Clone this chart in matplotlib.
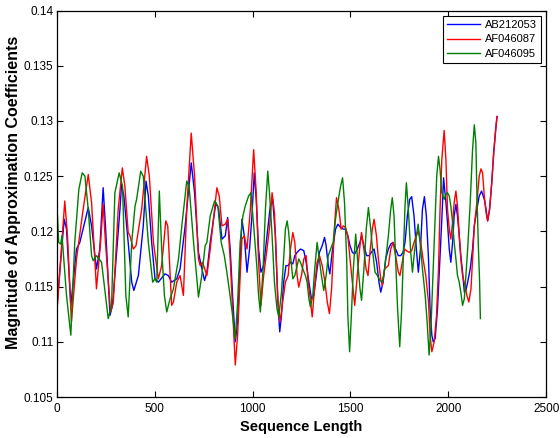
import matplotlib
matplotlib.use("Agg")
import matplotlib.pyplot as plt

# values
blue_x = [0, 38, 50, 72, 101, 118, 161, 178, 203, 220, 237, 249, 272, 285, 323, 331, 343, 365, 383, 394,
          417, 442, 456, 468, 485, 502, 519, 553, 570, 587, 613, 630, 656, 687, 704, 724, 738, 755, 767, 784,
          813, 827, 844, 861, 873, 886, 900, 912, 924, 934, 946, 958, 972, 985, 997, 1009, 1019, 1031, 1043, 1057,
          1074, 1091, 1103, 1117, 1129, 1139, 1148, 1159, 1171, 1182, 1194, 1206, 1216, 1228, 1245, 1262, 1274, 1288, 1301, 1313,
          1330, 1342, 1356, 1368, 1376, 1387, 1395, 1407, 1424, 1436, 1450, 1464, 1475, 1487, 1498, 1510, 1522, 1535, 1549, 1557,
          1569, 1583, 1595, 1607, 1621, 1634, 1646, 1655, 1667, 1680, 1694, 1706, 1718, 1731, 1745, 1757, 1769, 1779, 1791, 1803,
          1813, 1825, 1837, 1847, 1858, 1868, 1878, 1888, 1899, 1907, 1916, 1923, 1933, 1945, 1957, 1967, 1976, 1988, 1996, 2005,
          2013, 2022, 2030, 2039, 2047, 2056, 2064, 2073, 2082, 2090, 2099, 2112, 2124, 2133, 2146, 2158, 2170, 2184, 2193, 2201,
          2211, 2222, 2232, 2242, 2249]
blue_y = [0.1130, 0.1211, 0.1202, 0.1133, 0.1184, 0.1190, 0.12215, 0.1205, 0.1166, 0.1184, 0.12395, 0.1205, 0.1124, 0.1133, 0.1220, 0.12425, 0.1232, 0.1190, 0.1154, 0.11465,
          0.1160, 0.1205, 0.12455, 0.1232, 0.1190, 0.1157, 0.1154, 0.11615, 0.1160, 0.1154, 0.1157, 0.1166, 0.1205, 0.1262, 0.1235, 0.1181, 0.1169, 0.11555, 0.1163, 0.1190,
          0.1226, 0.1220, 0.1193, 0.1196, 0.12125, 0.1184, 0.1136, 0.1100, 0.1118, 0.1160, 0.1211, 0.1196, 0.1163, 0.1184, 0.1214, 0.1253, 0.1229, 0.1184, 0.1163, 0.1169,
          0.1196, 0.1223, 0.1229, 0.1196, 0.1139, 0.1109, 0.1124, 0.1154, 0.1169, 0.1169, 0.1172, 0.11705, 0.1178, 0.1181, 0.1184, 0.11825, 0.1172, 0.1154, 0.1139, 0.1142,
          0.1166, 0.1181, 0.1187, 0.11945, 0.1187, 0.1169, 0.11615, 0.1181, 0.1202, 0.12065, 0.12035, 0.1202, 0.1202, 0.1196, 0.1187, 0.1181, 0.11795, 0.1184, 0.1190, 0.1196,
          0.1187, 0.1178, 0.1178, 0.1181, 0.1184, 0.1172, 0.1154, 0.1145, 0.1154, 0.1175, 0.1184, 0.11885, 0.1190, 0.1184, 0.1178, 0.1178, 0.1181, 0.1190, 0.1214, 0.1229,
          0.12314, 0.1214, 0.1184, 0.1163, 0.1184, 0.1220, 0.12314, 0.1214, 0.1175, 0.1130, 0.1106, 0.1100, 0.1103, 0.1130, 0.1175, 0.1211, 0.12485, 0.1226, 0.1208, 0.1184,
          0.1172, 0.1190, 0.1214, 0.12245, 0.1214, 0.1196, 0.1178, 0.1163, 0.1145, 0.11465, 0.1154, 0.1166, 0.1184, 0.1205, 0.1220, 0.1232, 0.12365, 0.1229, 0.1220, 0.12095,
          0.1220, 0.1244, 0.1271, 0.1292, 0.1304]

red_x = [0, 41, 55, 75, 101, 135, 161, 178, 203, 224, 237, 249, 275, 289, 314, 335, 348, 365, 374, 391,
         405, 434, 459, 473, 494, 519, 536, 557, 567, 587, 596, 613, 630, 647, 664, 687, 704, 724, 733, 745,
         767, 784, 818, 830, 844, 861, 873, 886, 900, 912, 924, 937, 946, 958, 972, 989, 1006, 1019, 1031, 1043,
         1057, 1074, 1088, 1100, 1112, 1125, 1130, 1142, 1154, 1168, 1182, 1194, 1206, 1216, 1228, 1236, 1250, 1262, 1274, 1284,
         1293, 1305, 1318, 1330, 1342, 1356, 1370, 1382, 1393, 1404, 1419, 1429, 1441, 1453, 1464, 1475, 1487, 1498, 1510, 1522,
         1535, 1547, 1557, 1569, 1580, 1590, 1600, 1612, 1621, 1633, 1643, 1655, 1663, 1675, 1694, 1706, 1718, 1731, 1745, 1753,
         1765, 1777, 1786, 1800, 1813, 1825, 1837, 1847, 1859, 1871, 1885, 1899, 1907, 1916, 1928, 1940, 1950, 1958, 1967, 1979,
         1988, 1996, 2005, 2013, 2022, 2030, 2039, 2047, 2056, 2064, 2073, 2085, 2095, 2105, 2116, 2124, 2133, 2146, 2158, 2167,
         2175, 2184, 2193, 2201, 2211, 2222, 2232, 2242, 2249]
red_y = [0.1124, 0.12275, 0.1196, 0.1118, 0.1175, 0.1220, 0.12515, 0.1226, 0.1148, 0.1190, 0.12245, 0.1190, 0.1127, 0.1136, 0.1220, 0.12575, 0.1241, 0.1199, 0.1196, 0.1184,
         0.1187, 0.1220, 0.1268, 0.1250, 0.1190, 0.1157, 0.1169, 0.12095, 0.1205, 0.1133, 0.1136, 0.1154, 0.1160, 0.1142, 0.1220, 0.1289, 0.1250, 0.1175, 0.1169, 0.1172,
         0.1160, 0.1184, 0.12395, 0.1232, 0.1205, 0.12065, 0.1211, 0.1175, 0.1124, 0.1079, 0.1106, 0.1160, 0.1193, 0.1196, 0.1184, 0.1220, 0.1274, 0.1235, 0.1172, 0.1133,
         0.1160, 0.1184, 0.1205, 0.1235, 0.1217, 0.1160, 0.1136, 0.1118, 0.1136, 0.1154, 0.1160, 0.1184, 0.1199, 0.1190, 0.1160, 0.11495, 0.1160, 0.1175, 0.1178, 0.1154,
         0.1142, 0.11225, 0.1151, 0.1172, 0.1178, 0.1169, 0.1154, 0.1136, 0.11255, 0.1148, 0.1205, 0.12305, 0.1220, 0.1202, 0.1205, 0.12035, 0.1196, 0.1175, 0.1154, 0.1133,
         0.1160, 0.1184, 0.1199, 0.1184, 0.1166, 0.1160, 0.1181, 0.1202, 0.1211, 0.1196, 0.1175, 0.1157, 0.1151, 0.1166, 0.1169, 0.1184, 0.1190, 0.1178, 0.1163, 0.1160,
         0.1172, 0.1184, 0.11825, 0.1181, 0.11825, 0.1190, 0.1196, 0.12005, 0.1190, 0.1175, 0.1160, 0.1136, 0.1106, 0.1091, 0.1100, 0.1124, 0.1166, 0.1220, 0.1265, 0.12914,
         0.1265, 0.1220, 0.1202, 0.1193, 0.1208, 0.1226, 0.12365, 0.1223, 0.1196, 0.1175, 0.1160, 0.1151, 0.1142, 0.1136, 0.1148, 0.1175, 0.1205, 0.1226, 0.1250, 0.12566,
         0.1253, 0.1232, 0.1217, 0.12095, 0.1220, 0.1244, 0.1271, 0.1292, 0.1304]

green_x = [4, 10, 20, 27, 50, 72, 92, 113, 130, 144, 161, 178, 186, 203, 229, 263, 280, 297, 319, 336,
           353, 365, 383, 400, 408, 429, 442, 468, 490, 502, 511, 524, 536, 550, 562, 579, 596, 622, 639, 664,
           676, 699, 724, 741, 758, 767, 784, 806, 823, 840, 856, 869, 883, 896, 912, 924, 937, 951, 963, 980,
           992, 1006, 1023, 1031, 1040, 1054, 1066, 1078, 1088, 1100, 1112, 1125, 1134, 1148, 1159, 1168, 1177, 1185, 1194, 1206,
           1216, 1228, 1236, 1245, 1257, 1270, 1279, 1288, 1296, 1308, 1318, 1330, 1339, 1352, 1364, 1376, 1387, 1399, 1412, 1424,
           1436, 1450, 1460, 1470, 1481, 1487, 1496, 1505, 1515, 1527, 1539, 1549, 1557, 1569, 1581, 1592, 1604, 1616, 1626, 1638,
           1651, 1663, 1675, 1694, 1706, 1714, 1723, 1731, 1741, 1752, 1762, 1771, 1779, 1786, 1796, 1808, 1817, 1827, 1837, 1846,
           1856, 1868, 1882, 1892, 1902, 1912, 1923, 1933, 1941, 1950, 1958, 1967, 1979, 1988, 1996, 2005, 2013, 2022, 2030, 2039,
           2047, 2056, 2064, 2073, 2082, 2090, 2099, 2112, 2124, 2133, 2141, 2146, 2153, 2160, 2164]
green_y = [0.1214, 0.1190, 0.11885, 0.1196, 0.1142, 0.1106, 0.1190, 0.1238, 0.1253, 0.1250, 0.1220, 0.1178, 0.11735, 0.1178, 0.1172, 0.1121, 0.1133, 0.1235, 0.1253, 0.1241,
           0.1142, 0.11225, 0.1190, 0.1223, 0.1229, 0.12545, 0.1250, 0.1190, 0.1154, 0.1157, 0.1154, 0.12365, 0.1184, 0.1142, 0.1127, 0.1139, 0.1148, 0.1175, 0.1205, 0.12455,
           0.1241, 0.1190, 0.11405, 0.1160, 0.1187, 0.1190, 0.1214, 0.12275, 0.1223, 0.1190, 0.1178, 0.1163, 0.1145, 0.1127, 0.1103, 0.1136, 0.1190, 0.1214, 0.1223, 0.1232,
           0.1235, 0.1205, 0.1166, 0.1142, 0.1127, 0.1166, 0.1220, 0.12545, 0.1232, 0.1196, 0.1154, 0.1130, 0.11225, 0.1145, 0.1175, 0.1202, 0.12095, 0.1199, 0.1178, 0.1157,
           0.1160, 0.1169, 0.1175, 0.1172, 0.1166, 0.1160, 0.1154, 0.1139, 0.11315, 0.1142, 0.1166, 0.1190, 0.1178, 0.1160, 0.11465, 0.1160, 0.1178, 0.1184, 0.1190, 0.1211,
           0.1226, 0.1241, 0.12485, 0.1226, 0.1175, 0.1124, 0.1091, 0.1124, 0.1166, 0.11975, 0.1169, 0.1148, 0.11375, 0.1166, 0.1202, 0.12215, 0.1202, 0.1178, 0.1163, 0.1160,
           0.11555, 0.1154, 0.1166, 0.1196, 0.1220, 0.12305, 0.1214, 0.1175, 0.1130, 0.10955, 0.1130, 0.1181, 0.1223, 0.1244, 0.1220, 0.1181, 0.1163, 0.1181, 0.1196, 0.12065,
           0.1190, 0.1166, 0.1142, 0.1118, 0.1088, 0.1115, 0.1166, 0.1214, 0.1250, 0.1268, 0.1256, 0.1235, 0.1229, 0.12335, 0.1235, 0.1232, 0.1223, 0.1208, 0.1190, 0.1175,
           0.1160, 0.1154, 0.1145, 0.1133, 0.1139, 0.1160, 0.1184, 0.1226, 0.1274, 0.12965, 0.1280, 0.1235, 0.1190, 0.1154, 0.1121]

labels = ["AB212053", "AF046087", "AF046095"]
colors = ["#0000FF", "#FF0000", "#008000"]

plt.rcParams["font.family"] = ["Liberation Sans", "DejaVu Sans"]

fig = plt.figure(figsize=(5.6, 4.38), dpi=100)
ax = fig.add_axes([0.1013, 0.0936, 0.8740, 0.8824])

for xs, ys, c, lab in zip([blue_x, red_x, green_x], [blue_y, red_y, green_y], colors, labels):
    ax.plot(xs, ys, color=c, lw=1.0, label=lab)

ax.set_xlim(0, 2500)
ax.set_ylim(0.105, 0.14)
ax.set_xticks([0, 500, 1000, 1500, 2000, 2500])
ax.set_yticks([0.105, 0.11, 0.115, 0.12, 0.125, 0.13, 0.135, 0.14])
ax.set_yticklabels(["0.105", "0.11", "0.115", "0.12", "0.125", "0.13", "0.135", "0.14"])

# matlab look: ticks inside on every side
ax.tick_params(direction="in", top=True, right=True, labelsize=8.5, length=4, width=0.8)
ax.tick_params(axis="x", pad=4)
ax.tick_params(axis="y", pad=2.5)
for s in ax.spines.values():
    s.set_linewidth(0.9)

ax.set_xlabel("Sequence Length", fontsize=10.5, fontweight="bold", labelpad=4)
ax.set_ylabel("Magnitude of Approximation Coefficients", fontsize=11.5, fontweight="bold")
ax.yaxis.set_label_coords(-0.073, 0.53)

leg = ax.legend(loc="upper right", fontsize=8, fancybox=False, framealpha=1,
                edgecolor="black", borderaxespad=0.5, handlelength=3.0, labelspacing=0.4,
                borderpad=0.35, handletextpad=0.4)
leg.get_frame().set_linewidth(0.8)

fig.savefig("out.png", dpi=100)
